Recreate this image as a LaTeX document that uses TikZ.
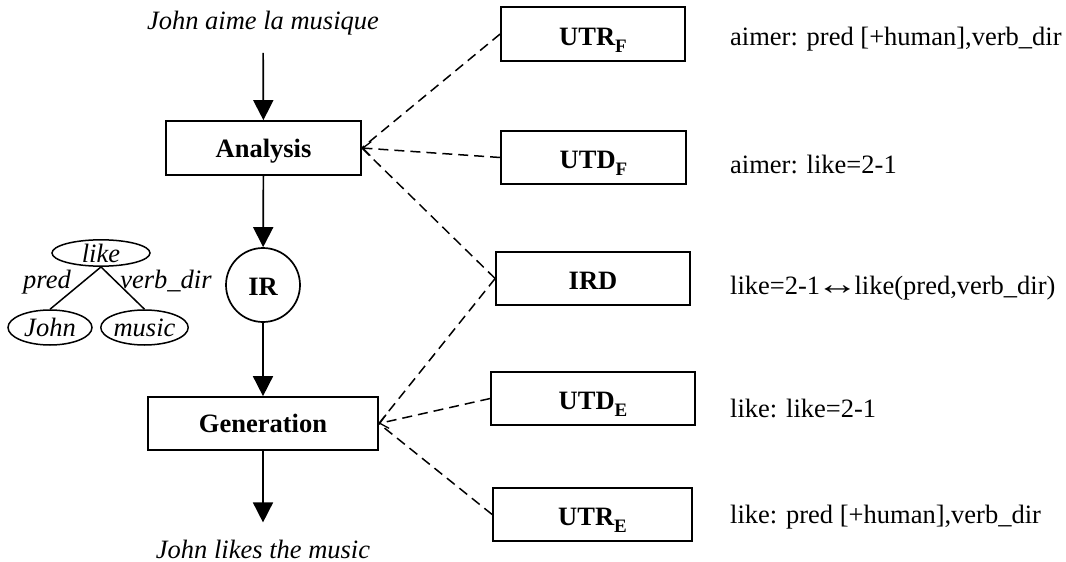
\documentclass[tikz,border=0pt]{standalone}
\usepackage{fontspec}
\usepackage{graphicx}
\setmainfont{Liberation Serif}
\usetikzlibrary{arrows.meta,shapes.geometric}
\newcommand{\mysub}[1]{\raisebox{-7pt}{\fontsize{19}{19}\selectfont #1}}
\newcommand{\myarrow}{\kern-4pt\scalebox{1.6}[1.15]{↔}\kern-4pt}
\begin{document}
\begin{tikzpicture}[x=1pt,y=-1pt,
  every node/.style={font=\fontsize{26.5}{30}\selectfont},
  boxnode/.style={draw,line width=1.7pt,rectangle,inner sep=0pt,text height=22pt,text depth=0pt,font=\fontsize{26.5}{30}\selectfont\bfseries},
  flow/.style={line width=1.7pt,-{Triangle[width=20pt,length=20pt]}},
  dashlink/.style={line width=1.5pt,dash pattern=on 10pt off 6pt},
  dasharrow/.style={dashlink,-{Straight Barb[length=8pt,width=14pt,line width=1.3pt]}},
  itlabel/.style={font=\fontsize{26.5}{30}\selectfont\itshape,inner sep=0pt},
  plain/.style={anchor=base west,inner sep=0pt},
  leaf/.style={draw,ellipse,line width=1.5pt,inner sep=0pt,font=\fontsize{26.5}{30}\selectfont\itshape}
]
\useasboundingbox (0,0) rectangle (1066,562);

% main column
\node[itlabel,anchor=base] (src) at (263,29) {John aime la musique};
\node[boxnode,minimum width=195pt,minimum height=54pt,text height=18pt] (ana) at (263.5,148) {Analysis};
\node[draw,circle,line width=1.7pt,minimum size=74pt,inner sep=0pt,text height=20pt,text depth=0pt,font=\fontsize{26.5}{30}\selectfont\bfseries] (ir) at (263,285) {IR};
\node[boxnode,minimum width=230pt,minimum height=53pt,text height=17pt] (gen) at (263,423.5) {Generation};
\node[itlabel,anchor=base] (tgt) at (263,558) {John likes the music};

\draw[flow,shorten <=18pt] (src) -- (ana);
\draw[flow] (ana) -- (ir);
\draw[flow] (ir) -- (gen);
\draw[flow,shorten >=17pt] (gen) -- (tgt.north);

% tree
\node[leaf,minimum width=98pt,minimum height=26pt] (like) at (101,253) {like};
\node[leaf,minimum width=84pt,minimum height=35pt] (john) at (50,327.5) {John};
\node[leaf,minimum width=85pt,minimum height=35pt] (music) at (144.5,327.5) {music};
\draw[line width=1.5pt] (like.south) -- (john.north);
\draw[line width=1.5pt] (like.south) -- (music.north);
\node[itlabel,anchor=base] (pred) at (47,288) {pred};
\node[itlabel,anchor=base] (vdir) at (166,288) {verb\_dir};

% resource boxes
\node[boxnode,minimum width=184pt,minimum height=54pt] (utrf) at (593,34) {UTR\mysub{F}};
\node[boxnode,minimum width=185pt,minimum height=53pt] (utdf) at (593.5,157.5) {UTD\mysub{F}};
\node[boxnode,minimum width=194pt,minimum height=53pt] (ird) at (593,278.5) {IRD};
\node[boxnode,minimum width=204pt,minimum height=53pt] (utde) at (593,398.5) {UTD\mysub{E}};
\node[boxnode,minimum width=199pt,minimum height=53pt] (utre) at (592.5,514.5) {UTR\mysub{E}};

% dashed links
\draw[dashlink] (utrf.west) -- (ana.east);
\draw[dasharrow] (utdf.west) -- (ana.east);
\draw[dashlink] (ird.west) -- (ana.east);
\draw[dashlink] (ird.west) -- (gen.east);
\draw[dasharrow] (utde.west) -- (gen.east);
\draw[dashlink] (utre.west) -- (gen.east);

% descriptions
\node[plain] (t1) at (730,45) {aimer: pred [+human],verb\_dir};
\node[plain] (t2) at (730,173) {aimer: like=2-1};
\node[plain] (t3) at (730,294) {like=2-1\myarrow like(pred,verb\_dir)};
\node[plain] (t4) at (730,417) {like: like=2-1};
\node[plain] (t5) at (730,523) {like: pred [+human],verb\_dir};
\end{tikzpicture}
\end{document}
